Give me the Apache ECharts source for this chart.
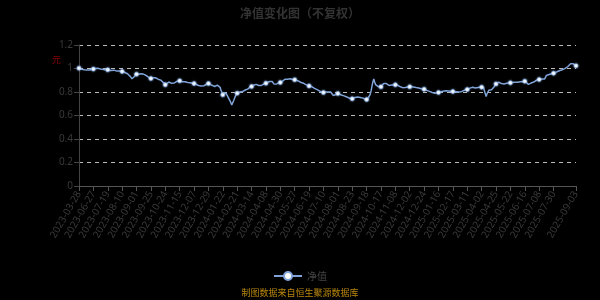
<!DOCTYPE html>
<html>
<head>
<meta charset="utf-8">
<script src="https://cdn.jsdelivr.net/npm/echarts@6/dist/echarts.min.js"></script>
<style>html,body{margin:0;padding:0;background:#000;}#c{width:600px;height:300px;}</style>
</head>
<body>
<div id="c"></div>
<script>
var tickDates = ["2023-03-28","2023-06-27","2023-07-19","2023-08-10","2023-09-01","2023-09-25","2023-10-24","2023-11-15","2023-12-07","2023-12-29","2024-01-22","2024-02-21","2024-03-14","2024-04-08","2024-04-30","2024-05-27","2024-06-19","2024-07-10","2024-08-01","2024-08-23","2024-09-18","2024-10-17","2024-11-08","2024-12-02","2024-12-24","2025-01-16","2025-02-17","2025-03-11","2025-04-02","2025-04-25","2025-05-22","2025-06-16","2025-07-08","2025-07-30","2025-09-03"];
// trading days between consecutive labelled dates
var segmentLengths = [16,16,16,16,16,16,16,16,16,16,16,16,16,16,16,16,16,16,16,16,16,16,16,16,16,16,16,16,16,16,16,16,16,25];
var navValues = [
1.003,1.000,0.998,0.994,0.996,0.991,0.989,0.992,0.990,0.987,0.992,0.990,0.988,0.993,0.994,0.995,
0.995,0.998,1.001,1.003,1.006,1.002,1.001,0.997,0.996,0.992,0.995,0.991,0.989,0.992,0.988,0.990,
0.989,0.986,0.987,0.988,0.984,0.985,0.982,0.986,0.981,0.980,0.978,0.982,0.977,0.978,0.975,0.976,
0.975,0.971,0.970,0.966,0.963,0.957,0.955,0.949,0.945,0.933,0.925,0.913,0.905,0.920,0.934,0.948,
0.952,0.956,0.949,0.954,0.956,0.952,0.955,0.949,0.946,0.948,0.941,0.939,0.934,0.931,0.924,0.919,
0.915,0.919,0.921,0.925,0.924,0.921,0.917,0.915,0.909,0.908,0.904,0.901,0.894,0.889,0.879,0.872,
0.862,0.869,0.874,0.881,0.885,0.881,0.878,0.874,0.881,0.882,0.877,0.884,0.886,0.891,0.891,0.894,
0.895,0.892,0.890,0.888,0.889,0.885,0.887,0.883,0.886,0.881,0.880,0.877,0.878,0.875,0.874,0.873,
0.872,0.869,0.866,0.861,0.858,0.855,0.856,0.851,0.852,0.849,0.850,0.853,0.856,0.863,0.866,0.870,
0.872,0.867,0.864,0.859,0.857,0.851,0.850,0.847,0.853,0.855,0.859,0.854,0.856,0.840,0.815,0.795,
0.776,0.795,0.810,0.800,0.785,0.770,0.755,0.740,0.725,0.708,0.690,0.705,0.725,0.745,0.765,0.780,
0.790,0.794,0.796,0.801,0.801,0.806,0.804,0.809,0.812,0.817,0.819,0.826,0.827,0.836,0.839,0.845,
0.847,0.853,0.857,0.865,0.870,0.865,0.862,0.857,0.855,0.851,0.850,0.856,0.859,0.866,0.869,0.874,
0.875,0.879,0.881,0.887,0.889,0.894,0.895,0.889,0.880,0.867,0.860,0.866,0.869,0.876,0.877,0.880,
0.881,0.886,0.889,0.897,0.901,0.908,0.910,0.913,0.909,0.908,0.913,0.912,0.910,0.907,0.906,0.905,
0.904,0.901,0.900,0.896,0.894,0.889,0.885,0.881,0.880,0.876,0.874,0.869,0.866,0.861,0.858,0.854,
0.852,0.850,0.846,0.845,0.841,0.838,0.831,0.828,0.823,0.820,0.815,0.812,0.807,0.805,0.799,0.798,
0.796,0.799,0.801,0.804,0.801,0.800,0.802,0.798,0.800,0.795,0.785,0.770,0.761,0.768,0.778,0.785,
0.787,0.783,0.780,0.777,0.775,0.771,0.770,0.767,0.765,0.761,0.758,0.754,0.752,0.747,0.745,0.742,
0.742,0.746,0.748,0.753,0.755,0.758,0.757,0.755,0.756,0.754,0.755,0.751,0.748,0.743,0.740,0.737,
0.736,0.742,0.752,0.765,0.780,0.810,0.850,0.885,0.910,0.885,0.862,0.850,0.848,0.845,0.846,0.845,
0.844,0.851,0.860,0.873,0.880,0.876,0.872,0.865,0.860,0.856,0.855,0.858,0.860,0.863,0.863,0.861,
0.861,0.859,0.858,0.855,0.852,0.847,0.845,0.839,0.837,0.834,0.835,0.839,0.840,0.843,0.843,0.845,
0.844,0.846,0.845,0.843,0.843,0.840,0.840,0.838,0.838,0.835,0.834,0.831,0.830,0.827,0.826,0.824,
0.824,0.820,0.818,0.814,0.812,0.807,0.805,0.801,0.800,0.796,0.794,0.791,0.790,0.792,0.793,0.796,
0.796,0.799,0.800,0.803,0.804,0.807,0.808,0.810,0.810,0.812,0.810,0.808,0.808,0.806,0.806,0.804,
0.804,0.802,0.803,0.801,0.802,0.800,0.800,0.799,0.800,0.803,0.805,0.809,0.811,0.815,0.817,0.820,
0.821,0.825,0.828,0.833,0.836,0.840,0.840,0.837,0.836,0.834,0.835,0.838,0.839,0.841,0.841,0.842,
0.841,0.843,0.841,0.839,0.840,0.761,0.785,0.800,0.815,0.818,0.818,0.819,0.820,0.830,0.845,0.858,
0.869,0.876,0.880,0.884,0.883,0.877,0.872,0.867,0.866,0.869,0.870,0.873,0.874,0.876,0.876,0.878,
0.878,0.880,0.880,0.879,0.881,0.883,0.882,0.884,0.883,0.885,0.885,0.887,0.887,0.889,0.890,0.892,
0.892,0.887,0.880,0.871,0.865,0.867,0.870,0.876,0.880,0.884,0.885,0.891,0.895,0.900,0.902,0.905,
0.906,0.908,0.908,0.910,0.910,0.911,0.910,0.925,0.940,0.946,0.947,0.949,0.950,0.953,0.955,0.959,
0.960,0.964,0.966,0.970,0.972,0.976,0.978,0.983,0.985,0.989,0.990,0.994,0.995,1.001,1.006,1.013,
1.017,1.025,1.033,1.040,1.035,1.055,1.040,1.025,1.030,1.023
];
var yTicks = [0,0.2,0.4,0.6,0.8,1,1.2];

// build category list: labelled dates plus the intermediate trading days
function fmt(d){var m=d.getMonth()+1,dd=d.getDate();return d.getFullYear()+'-'+(m<10?'0':'')+m+'-'+(dd<10?'0':'')+dd;}
var categories = [], labelIdx = {};
for (var i = 0; i < segmentLengths.length; i++) {
  labelIdx[categories.length] = true;
  categories.push(tickDates[i]);
  var d = new Date(tickDates[i] + 'T00:00:00');
  for (var k = 1; k < segmentLengths[i]; k++) {
    do { d.setDate(d.getDate() + 1); } while (d.getDay() === 0 || d.getDay() === 6);
    categories.push(fmt(d));
  }
}
labelIdx[categories.length] = true;
categories.push(tickDates[tickDates.length - 1]);

var showIdx = function (idx) { return !!labelIdx[idx]; };
var chart = echarts.init(document.getElementById('c'), null, {renderer: 'canvas'});
chart.setOption({
  backgroundColor: '#000',
  animation: false,
  title: {
    text: '净值变化图（不复权）', left: 'center', top: 2,
    textStyle: {color: '#333', fontSize: 12, fontWeight: 'bold', fontFamily: 'Noto Sans CJK SC'}
  },
  graphic: [{
    type: 'text', left: 52, top: 55,
    style: {text: '元', fill: '#8b0000', fontSize: 9, fontFamily: 'Noto Sans CJK SC'}
  }],
  legend: {
    bottom: 14, left: 'center', itemWidth: 28, itemHeight: 10,
    textStyle: {color: '#444', fontSize: 10, fontFamily: 'Noto Sans CJK SC'},
    data: ['净值']
  },
  grid: {left: 79, right: 24, top: 45, bottom: 114},
  xAxis: {
    type: 'category', data: categories, boundaryGap: false,
    axisLine: {lineStyle: {color: '#555'}},
    axisTick: {interval: showIdx, lineStyle: {color: '#555'}},
    axisLabel: {interval: showIdx, rotate: 60, color: '#3a3a3a', fontSize: 10, fontFamily: 'Noto Sans', margin: 6},
    splitLine: {show: false}
  },
  yAxis: {
    type: 'value', min: yTicks[0], max: yTicks[yTicks.length - 1], interval: 0.2,
    axisLine: {show: true, lineStyle: {color: '#444'}},
    axisTick: {show: true, lineStyle: {color: '#444'}},
    axisLabel: {color: '#3a3a3a', fontSize: 10, fontFamily: 'Noto Sans', margin: 6},
    splitLine: {lineStyle: {color: '#bbb', type: [4, 4], width: 1}}
  },
  series: [{
    name: '净值', type: 'line', data: navValues,
    symbol: 'circle', symbolSize: 4, showAllSymbol: 'auto',
    lineStyle: {color: '#7fa3d8', width: 1.5},
    itemStyle: {color: '#ffffff', borderColor: '#7fa3d8', borderWidth: 0.5, shadowColor: '#9cc4ff', shadowBlur: 2}
  }]
});
</script>
<div style="position:absolute;left:0;top:286px;width:600px;text-align:center;font:9px 'Noto Sans CJK SC';color:#b8860b;">制图数据来自恒生聚源数据库</div>
</body>
</html>
